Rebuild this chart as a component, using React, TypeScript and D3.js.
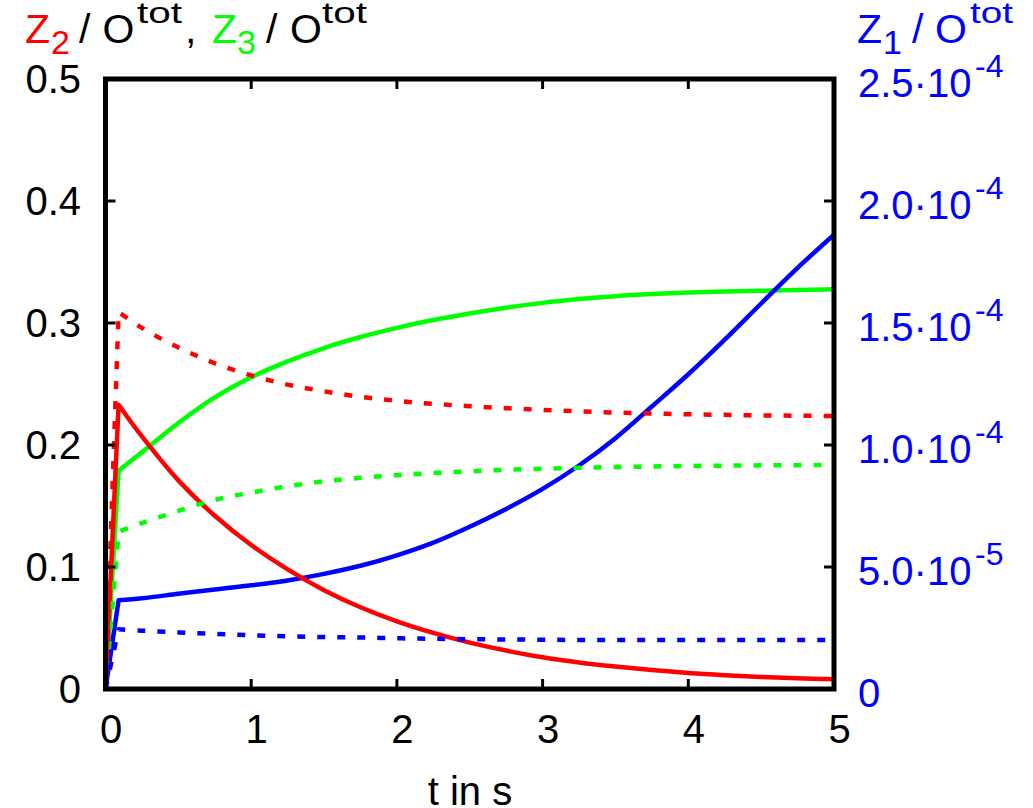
import React from 'react';
import * as d3 from 'd3';

// time grid (s)
const times = [0, 0.09, 0.25, 0.5, 0.75, 1, 1.25, 1.5, 1.75, 2, 2.25, 2.5, 2.75, 3, 3.25, 3.5, 3.75, 4, 4.25, 4.5, 4.75, 5];

// Z2 / Otot (left axis)
const z2Solid = [0, 0.233, 0.207, 0.171, 0.142, 0.118, 0.098, 0.081, 0.067, 0.0555, 0.046, 0.038, 0.0315, 0.0260, 0.0218, 0.0184, 0.0155, 0.0131, 0.0113, 0.0099, 0.0088, 0.0079];
const z2Dashed = [0, 0.309, 0.296, 0.280, 0.267, 0.257, 0.2495, 0.2440, 0.2395, 0.2362, 0.2337, 0.2318, 0.2302, 0.2288, 0.2276, 0.2266, 0.2258, 0.2252, 0.2247, 0.2243, 0.2240, 0.2238];
// Z3 / Otot (left axis)
const z3Solid = [0, 0.179, 0.194, 0.218, 0.239, 0.2555, 0.2685, 0.2795, 0.2885, 0.2960, 0.3025, 0.3078, 0.3125, 0.3165, 0.3196, 0.3220, 0.3237, 0.3249, 0.3258, 0.3265, 0.3271, 0.3276];
const z3Dashed = [0, 0.129, 0.136, 0.146, 0.155, 0.161, 0.1662, 0.1702, 0.1731, 0.1753, 0.1770, 0.1784, 0.1796, 0.1806, 0.1813, 0.1819, 0.1824, 0.1828, 0.1831, 0.1833, 0.1835, 0.1836];
// Z1 / Otot (right axis)
const z1Solid = [0, 3.64e-5, 3.72e-5, 3.90e-5, 4.08e-5, 4.25e-5, 4.45e-5, 4.72e-5, 5.05e-5, 5.48e-5, 6.0e-5, 6.65e-5, 7.38e-5, 8.2e-5, 9.16e-5, 1.028e-4, 1.158e-4, 1.29e-4, 1.432e-4, 1.58e-4, 1.726e-4, 1.862e-4];
const z1Dashed = [0, 2.45e-5, 2.39e-5, 2.32e-5, 2.26e-5, 2.20e-5, 2.16e-5, 2.13e-5, 2.11e-5, 2.08e-5, 2.06e-5, 2.04e-5, 2.03e-5, 2.02e-5, 2.01e-5, 2.01e-5, 2.01e-5, 2.01e-5, 2.01e-5, 2.01e-5, 2.01e-5, 2.01e-5];

const xTicks = [0, 1, 2, 3, 4, 5];
const yTicks = [0, 0.1, 0.2, 0.3, 0.4, 0.5];
const yTickLabels = ['0', '0.1', '0.2', '0.3', '0.4', '0.5'];
const y2Ticks = [0, 5e-5, 1e-4, 1.5e-4, 2e-4, 2.5e-4];
const y2Mantissa = ['0', '5.0·10', '1.0·10', '1.5·10', '2.0·10', '2.5·10'];
const y2Exponent = ['', '-5', '-4', '-4', '-4', '-4'];

const W = 1033;
const H = 808;
const FONT = "'Liberation Sans', Arial, Helvetica, sans-serif";

const x = d3.scaleLinear().domain([0, 5]).range([105.5, 834]);
const y = d3.scaleLinear().domain([0, 0.5]).range([689, 79]);
const y2 = d3.scaleLinear().domain([0, 2.5e-4]).range([689, 79]);

function makePath(vals: number[], scale: d3.ScaleLinear<number, number>): string {
  const pts: [number, number][] = times.map((t, i) => [x(t), scale(vals[i])]);
  const first = pts[0];
  const rest = d3.line().curve(d3.curveCatmullRom.alpha(0.5))(pts.slice(1)) || '';
  return `M${first[0]},${first[1]}L${rest.slice(1)}`;
}

const RED = '#ff0000';
const GREEN = '#00ff00';
const BLUE = '#0000ff';

export default function App() {
  const [x0, x1] = x.range();
  const [yb, yt] = y.range();
  const tickLen = 10;
  const series = [
    { d: makePath(z3Solid, y), color: GREEN, dash: undefined },
    { d: makePath(z1Solid, y2), color: BLUE, dash: undefined },
    { d: makePath(z2Solid, y), color: RED, dash: undefined },
    { d: makePath(z3Dashed, y), color: GREEN, dash: '8 12' },
    { d: makePath(z2Dashed, y), color: RED, dash: '8 12' },
    { d: makePath(z1Dashed, y2), color: BLUE, dash: '8 12' },
  ];
  return (
    <svg width={W} height={H} style={{ position: 'absolute', left: 0, top: 0, background: '#fff' }} fontFamily={FONT}>
      <rect x={0} y={0} width={W} height={H} fill="#fff" />
      <defs>
        <clipPath id="plotclip">
          <rect x={x0} y={yt} width={x1 - x0} height={yb - yt} />
        </clipPath>
      </defs>
      <g clipPath="url(#plotclip)">
        {series.map((s, i) => (
          <path key={i} d={s.d} fill="none" stroke={s.color} strokeWidth={4.5} strokeDasharray={s.dash} strokeLinejoin="round" />
        ))}
      </g>
      {/* ticks */}
      <g stroke="#000" strokeWidth={3}>
        {xTicks.map((t) => (
          <g key={'xt' + t}>
            <line x1={x(t)} x2={x(t)} y1={yb} y2={yb - tickLen} />
            <line x1={x(t)} x2={x(t)} y1={yt} y2={yt + tickLen} />
          </g>
        ))}
        {yTicks.map((v) => (
          <line key={'yt' + v} x1={x0} x2={x0 + tickLen} y1={y(v)} y2={y(v)} />
        ))}
        {y2Ticks.map((v) => (
          <line key={'y2t' + v} x1={x1} x2={x1 - tickLen} y1={y2(v)} y2={y2(v)} />
        ))}
      </g>
      <rect x={x0} y={yt} width={x1 - x0} height={yb - yt} fill="none" stroke="#000" strokeWidth={5} />
      {/* x tick labels */}
      {xTicks.map((t) => (
        <text key={'xl' + t} x={x(t) + 5.5} y={743} fontSize={40} textAnchor="middle" fill="#000">{t}</text>
      ))}
      {/* left tick labels */}
      {yTicks.map((v, i) => (
        <text key={'yl' + v} x={81} y={y(v) + 14} fontSize={40} textAnchor="end" fill="#000">{yTickLabels[i]}</text>
      ))}
      {/* right tick labels */}
      {y2Ticks.map((v, i) => (
        <g key={'y2l' + v} fill={BLUE}>
          <text x={858} y={y2(v) + 18} fontSize={40}>{y2Mantissa[i]}</text>
          {y2Exponent[i] && <text x={975} y={y2(v) - 2} fontSize={32}>{y2Exponent[i]}</text>}
        </g>
      ))}
      {/* x label */}
      <text x={470} y={805} fontSize={40} textAnchor="middle" fill="#000">t in s</text>
      {/* left title */}
      <g fill="#000">
        <text x={25} y={43} fontSize={41} fill={RED}>Z</text>
        <text x={51} y={54} fontSize={34} fill={RED}>2</text>
        <text x={79} y={43} fontSize={41}>/</text>
        <text x={102.5} y={43} fontSize={41}>O</text>
        <text x={137} y={23} fontSize={30} textLength={45} lengthAdjust="spacingAndGlyphs">tot</text>
        <text x={185} y={43} fontSize={41}>,</text>
        <text x={212} y={43} fontSize={41} fill={GREEN}>Z</text>
        <text x={237} y={54} fontSize={34} fill={GREEN}>3</text>
        <text x={266} y={43} fontSize={41}>/</text>
        <text x={290} y={43} fontSize={41}>O</text>
        <text x={322} y={23} fontSize={30} textLength={45} lengthAdjust="spacingAndGlyphs">tot</text>
      </g>
      {/* right title */}
      <g fill={BLUE}>
        <text x={857} y={43} fontSize={41}>Z</text>
        <text x={883} y={54} fontSize={34}>1</text>
        <text x={912} y={43} fontSize={41}>/</text>
        <text x={935} y={43} fontSize={41}>O</text>
        <text x={970} y={23} fontSize={30} textLength={43} lengthAdjust="spacingAndGlyphs">tot</text>
      </g>
    </svg>
  );
}
